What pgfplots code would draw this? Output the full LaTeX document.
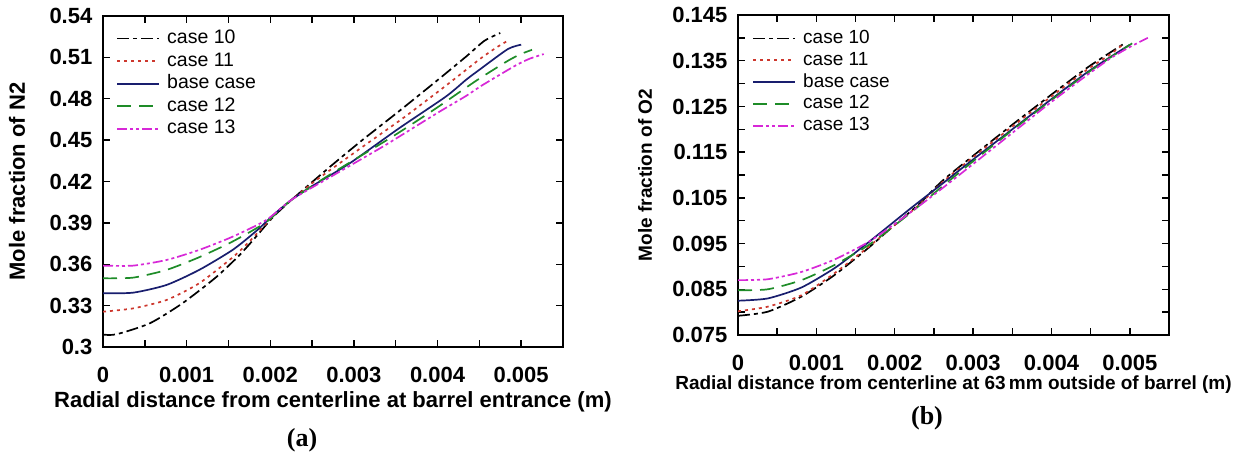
\documentclass[border=0pt]{standalone}
\usepackage{fontspec}
\setmainfont{Liberation Sans}
\newfontfamily\capfont{Liberation Serif}
\usepackage{pgfplots}
\pgfplotsset{compat=1.18}

\definecolor{cten}{RGB}{0,0,0}
\definecolor{celeven}{RGB}{205,55,45}
\definecolor{cbase}{RGB}{25,30,110}
\definecolor{ctwelve}{RGB}{30,140,40}
\definecolor{cthirteen}{RGB}{215,40,215}

\pgfplotsset{
  panel/.style={
    scale only axis,
    axis line style={line width=1pt},
    every tick/.style={line width=0.7pt, black},
    major tick length=3.5pt, minor tick length=3.5pt,
    tick align=inside,
    xmin=0, xmax=0.0055,
    scaled x ticks=false, scaled y ticks=false,
    xtick={0,0.001,0.002,0.003,0.004,0.005},
    xticklabels={0,0.001,0.002,0.003,0.004,0.005},
    minor xtick={0.0005,0.0015,0.0025,0.0035,0.0045},
    ticklabel style={font=\fontsize{11}{13}\selectfont\bfseries},
    /pgf/number format/assume math mode=true,
    xticklabel style={anchor=center, yshift=-14pt},
    yticklabel style={anchor=east, xshift=-1.8pt},
    legend cell align=left,
    legend image code/.code={\draw[#1, line width=0.9pt] (0pt,0pt) -- (21pt,0pt);},
  },
  s10/.style={cten, line width=0.85pt, smooth, tension=0.4, dash pattern=on 6pt off 2pt on 2pt off 2pt},
  s11/.style={celeven, line width=0.85pt, smooth, tension=0.4, dash pattern=on 1.5pt off 2pt},
  sbase/.style={cbase, line width=0.85pt, smooth, tension=0.4},
  s12/.style={ctwelve, line width=0.85pt, smooth, tension=0.4, dash pattern=on 7pt off 4pt},
  s13/.style={cthirteen, line width=0.85pt, smooth, tension=0.4, dash pattern=on 5pt off 1.5pt on 1.5pt off 1.5pt on 1.5pt off 1.5pt},
}

\begin{document}
\begin{tikzpicture}
\useasboundingbox (0pt,0pt) rectangle (623pt,-227.5pt);

% (a) N2
\begin{axis}[panel,
    at={(51.5pt,-173.5pt)}, anchor=south west,
    width=230pt, height=165.5pt,
    ymin=0.3, ymax=0.54,
    ytick={0.3,0.33,0.36,0.39,0.42,0.45,0.48,0.51,0.54},
    yticklabels={0.3,0.33,0.36,0.39,0.42,0.45,0.48,0.51,0.54},
    xlabel={Radial distance from centerline at barrel entrance (m)},
    ylabel={Mole fraction of N2},
    label style={font=\fontsize{11}{13}\selectfont\bfseries},
    xlabel style={at={([yshift=-27.5pt]axis description cs:0.5,0)}, anchor=center},
    ylabel style={at={([xshift=-43pt]axis description cs:0,0.5)}, anchor=center},
    legend style={draw=none, fill=none, at={(0,1)}, anchor=north west,
      xshift=6.5pt, yshift=-6.3pt, inner sep=0pt, row sep=1.9pt,
      font=\fontsize{9.75}{11}\selectfont,
      nodes={inner ysep=0pt, inner xsep=3.5pt, text height=7.2pt, text depth=2.2pt}},
]
\addplot[s10] coordinates {
 (0,0.3090) (0.00016,0.3092) (0.00056,0.3172) (0.00095,0.3317) (0.00135,0.3505)
 (0.00163,0.3665) (0.00183,0.3800) (0.00203,0.3940) (0.00226,0.4070) (0.00274,0.4320)
 (0.00310,0.4500) (0.00354,0.4710) (0.00400,0.4935) (0.00434,0.5105) (0.00456,0.5220)
 (0.00475,0.5277)
};
\addlegendentry{case 10}
\addplot[s11] coordinates {
 (0,0.3256) (0.00036,0.3280) (0.00076,0.3341) (0.00115,0.3462) (0.00155,0.3650)
 (0.00175,0.3765) (0.00195,0.3895) (0.00211,0.3995) (0.00226,0.4070) (0.00255,0.4210)
 (0.00310,0.4450) (0.00360,0.4665) (0.00410,0.4895) (0.00450,0.5085) (0.00470,0.5170)
 (0.00486,0.5228)
};
\addlegendentry{case 11}
\addplot[sbase] coordinates {
 (0,0.3390) (0.00036,0.3394) (0.00076,0.3450) (0.00115,0.3559) (0.00155,0.3704)
 (0.00183,0.3840) (0.00207,0.3975) (0.00226,0.4070) (0.00251,0.4170) (0.00295,0.4332)
 (0.00354,0.4586) (0.00410,0.4816) (0.00434,0.4937) (0.00450,0.5010) (0.00484,0.5160)
 (0.00500,0.5192)
};
\addlegendentry{base case}
\addplot[s12] coordinates {
 (0,0.3498) (0.00036,0.3503) (0.00076,0.3559) (0.00115,0.3651) (0.00155,0.3765)
 (0.00195,0.3905) (0.00226,0.4070) (0.00274,0.4260) (0.00346,0.4525) (0.00398,0.4730)
 (0.00446,0.4930) (0.00484,0.5075) (0.00500,0.5125) (0.00513,0.5155)
};
\addlegendentry{case 12}
\addplot[s13] coordinates {
 (0,0.3590) (0.00036,0.3590) (0.00076,0.3631) (0.00115,0.3704) (0.00155,0.3800)
 (0.00195,0.3920) (0.00226,0.4070) (0.00274,0.4240) (0.00331,0.4440) (0.00354,0.4525)
 (0.00402,0.4705) (0.00434,0.4820) (0.00454,0.4900) (0.00493,0.5040) (0.00510,0.5090)
 (0.00527,0.5124)
};
\addlegendentry{case 13}
\end{axis}

% (b) O2
\begin{axis}[panel,
    at={(369pt,-167.5pt)}, anchor=south west,
    width=215.5pt, height=160pt,
    ymin=0.075, ymax=0.145,
    ytick={0.075,0.085,0.095,0.105,0.115,0.125,0.135,0.145},
    yticklabels={0.075,0.085,0.095,0.105,0.115,0.125,0.135,0.145},
    minor ytick={0.08,0.09,0.10,0.11,0.12,0.13,0.14},
    xlabel={Radial distance from centerline at 63\,mm outside of barrel (m)},
    ylabel={Mole fraction of O2},
    label style={font=\fontsize{9.5}{11}\selectfont\bfseries},
    xlabel style={at={([yshift=-25pt]axis description cs:0.5,0)}, anchor=center},
    ylabel style={at={([xshift=-46.5pt]axis description cs:0,0.5)}, anchor=center},
    legend style={draw=none, fill=none, at={(0,1)}, anchor=north west,
      xshift=7pt, yshift=-6.8pt, inner sep=0pt, row sep=1.5pt,
      font=\fontsize{9.5}{11}\selectfont,
      nodes={inner ysep=0pt, inner xsep=3.5pt, text height=7.2pt, text depth=2.2pt}},
]
\addplot[s10] coordinates {
 (0,0.0792) (0.00038,0.0801) (0.00081,0.0834) (0.00123,0.0881) (0.00166,0.0940)
 (0.00196,0.0985) (0.00230,0.1035) (0.00260,0.1086) (0.00300,0.1142) (0.00350,0.1210)
 (0.00400,0.1276) (0.00445,0.1334) (0.00475,0.1368) (0.00495,0.1390)
};
\addlegendentry{case 10}
\addplot[s11] coordinates {
 (0,0.0802) (0.00038,0.0812) (0.00081,0.0837) (0.00123,0.0885) (0.00166,0.0942)
 (0.00196,0.0985) (0.00230,0.1033) (0.00260,0.1083) (0.00300,0.1139) (0.00350,0.1206)
 (0.00400,0.1272) (0.00445,0.1330) (0.00475,0.1364) (0.00493,0.1388)
};
\addlegendentry{case 11}
\addplot[sbase] coordinates {
 (0,0.0825) (0.00038,0.0830) (0.00081,0.0854) (0.00123,0.0896) (0.00157,0.0940)
 (0.00187,0.0981) (0.00221,0.1028) (0.00260,0.1080) (0.00300,0.1134) (0.00350,0.1200)
 (0.00400,0.1266) (0.00445,0.1324) (0.00475,0.1358) (0.00500,0.1385)
};
\addlegendentry{base case}
\addplot[s12] coordinates {
 (0,0.0848) (0.00038,0.0850) (0.00081,0.0870) (0.00123,0.0903) (0.00166,0.0946)
 (0.00200,0.0990) (0.00225,0.1024) (0.00260,0.1074) (0.00300,0.1130) (0.00350,0.1198)
 (0.00400,0.1264) (0.00445,0.1322) (0.00475,0.1357) (0.00503,0.1388)
};
\addlegendentry{case 12}
\addplot[s13] coordinates {
 (0,0.0870) (0.00038,0.0872) (0.00081,0.0888) (0.00123,0.0915) (0.00166,0.0953)
 (0.00200,0.0993) (0.00234,0.1036) (0.00260,0.1070) (0.00300,0.1124) (0.00350,0.1192)
 (0.00400,0.1260) (0.00445,0.1318) (0.00475,0.1355) (0.00500,0.1380) (0.00523,0.1400)
};
\addlegendentry{case 13}
\end{axis}

\node[font=\capfont\bfseries\fontsize{13}{13}\selectfont] at (151pt,-220pt) {(a)};
\node[font=\capfont\bfseries\fontsize{13}{13}\selectfont] at (463.5pt,-209pt) {(b)};
\end{tikzpicture}
\end{document}
